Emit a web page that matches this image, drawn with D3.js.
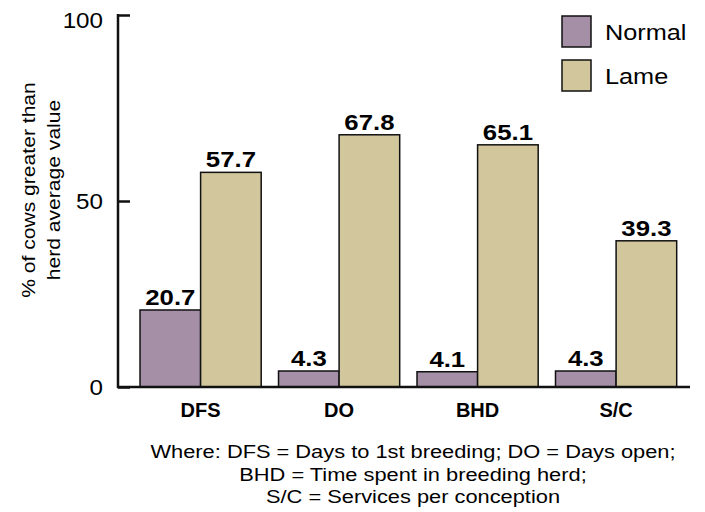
<!DOCTYPE html>
<meta charset="utf-8">
<style>
body {
  margin: 0;
  font-family: "Liberation Sans", Arial, Helvetica, sans-serif;
  background: #fff;
}
.bar {
  stroke: #111;
  stroke-width: 1.5;
}
.value {
  font-weight: bold;
  font-size: 23px;
  text-anchor: middle;
}
.cat {
  font-weight: bold;
  font-size: 20px;
  text-anchor: middle;
}
</style>
<body>
<script src="https://cdn.jsdelivr.net/npm/d3@7"></script>
<script>

var width = 705,
    height = 512;

// data
var categories = ["DFS", "DO", "BHD", "S/C"];
var series = ["Normal", "Lame"];
var normalValues = [20.7, 4.3, 4.1, 4.3];
var lameValues = [57.7, 67.8, 65.1, 39.3];
var yTicks = [0, 50, 100];
var footnote = [
  "Where: DFS = Days to 1st breeding; DO = Days open;",
  "BHD = Time spent in breeding herd;",
  "S/C = Services per conception"
];
var colors = ["#a48fa7", "#d1c69c"];

var data = categories.map(function(c, i) {
  return {cat: c, values: [normalValues[i], lameValues[i]]};
});

// the original lettering is a bit wider than Liberation Sans
function place(x, y, sx, rot) {
  return "translate(" + x + "," + y + ")" + (rot ? " rotate(" + rot + ")" : "") + " scale(" + sx + ",1)";
}

var x = d3.scaleBand()
    .domain(categories)
    .range([122.7, 694])
    .padding(0.125);

var x1 = d3.scaleBand()
    .domain(series)
    .range([0, x.bandwidth()]);

var y = d3.scaleLinear()
    .domain([0, 100])
    .range([387, 15]);

var svg = d3.select("body").append("svg")
    .attr("width", width)
    .attr("height", height);

// bars
var groups = svg.selectAll(".group")
    .data(data)
  .enter().append("g")
    .attr("class", "group")
    .attr("transform", function(d) { return "translate(" + x(d.cat) + ",0)"; });

groups.selectAll(".bar")
    .data(function(d) { return d.values.map(function(v, i) { return {s: series[i], v: v, i: i}; }); })
  .enter().append("rect")
    .attr("class", "bar")
    .attr("x", function(d) { return x1(d.s); })
    .attr("y", function(d) { return y(d.v); })
    .attr("width", x1.bandwidth())
    .attr("height", function(d) { return y(0) - y(d.v); })
    .style("fill", function(d) { return colors[d.i]; });

groups.selectAll(".value")
    .data(function(d) { return d.values.map(function(v, i) { return {s: series[i], v: v}; }); })
  .enter().append("text")
    .attr("class", "value")
    .attr("transform", function(d) { return place(x1(d.s) + x1.bandwidth() / 2, y(d.v) - 5, 1.12); })
    .text(function(d) { return d.v.toFixed(1); });

// axes
var yAxis = d3.axisRight(y)
    .tickValues(yTicks)
    .tickSize(12)
    .tickFormat("");

var ay = svg.append("g")
    .attr("transform", "translate(118,0)")
    .call(yAxis);
ay.select(".domain").remove();
ay.selectAll("line").attr("stroke", "#111").attr("stroke-width", 2.5);

svg.append("line")
    .attr("x1", 118).attr("x2", 118)
    .attr("y1", y(100) - 1).attr("y2", y(0) + 1)
    .attr("stroke", "#111").attr("stroke-width", 2.5);

svg.append("line")
    .attr("x1", 117).attr("x2", 690)
    .attr("y1", y(0)).attr("y2", y(0))
    .attr("stroke", "#111").attr("stroke-width", 2.5);

svg.selectAll(".tick-label")
    .data(yTicks)
  .enter().append("text")
    .attr("class", "tick-label")
    .attr("transform", function(d) { return place(103, y(d) + (d === 100 ? 5 : 0), 1.1); })
    .attr("dy", "0.36em")
    .attr("text-anchor", "end")
    .style("font-size", "22px")
    .text(function(d) { return d; });

svg.selectAll(".cat")
    .data(categories)
  .enter().append("text")
    .attr("class", "cat")
    .attr("transform", function(d) { return place(x(d) + x.bandwidth() / 2, 417, 1.0); })
    .text(function(d) { return d; });

// y title
var yt = svg.append("text")
    .attr("transform", place(35, 190, 1.11, -90))
    .attr("text-anchor", "middle")
    .style("font-size", "19px");
yt.append("tspan").attr("x", 0).attr("dy", 0).text("% of cows greater than");
yt.append("tspan").attr("x", 0).attr("dy", "1.3em").text("herd average value");

// legend
var legend = svg.selectAll(".legend")
    .data(series)
  .enter().append("g")
    .attr("class", "legend")
    .attr("transform", function(d, i) { return "translate(562," + (16 + i * 44) + ")"; });

legend.append("rect")
    .attr("width", 29)
    .attr("height", 31)
    .attr("stroke", "#111")
    .attr("stroke-width", 1.5)
    .style("fill", function(d, i) { return colors[i]; });

legend.append("text")
    .attr("transform", place(43, 24, 1.15))
    .style("font-size", "22px")
    .text(function(d) { return d; });

// footnote
svg.selectAll(".note")
    .data(footnote)
  .enter().append("text")
    .attr("class", "note")
    .attr("transform", function(d, i) { return place(413, [458, 481, 503][i], 1.18); })
    .attr("text-anchor", "middle")
    .style("font-size", "18.5px")
    .text(function(d) { return d; });

</script>
